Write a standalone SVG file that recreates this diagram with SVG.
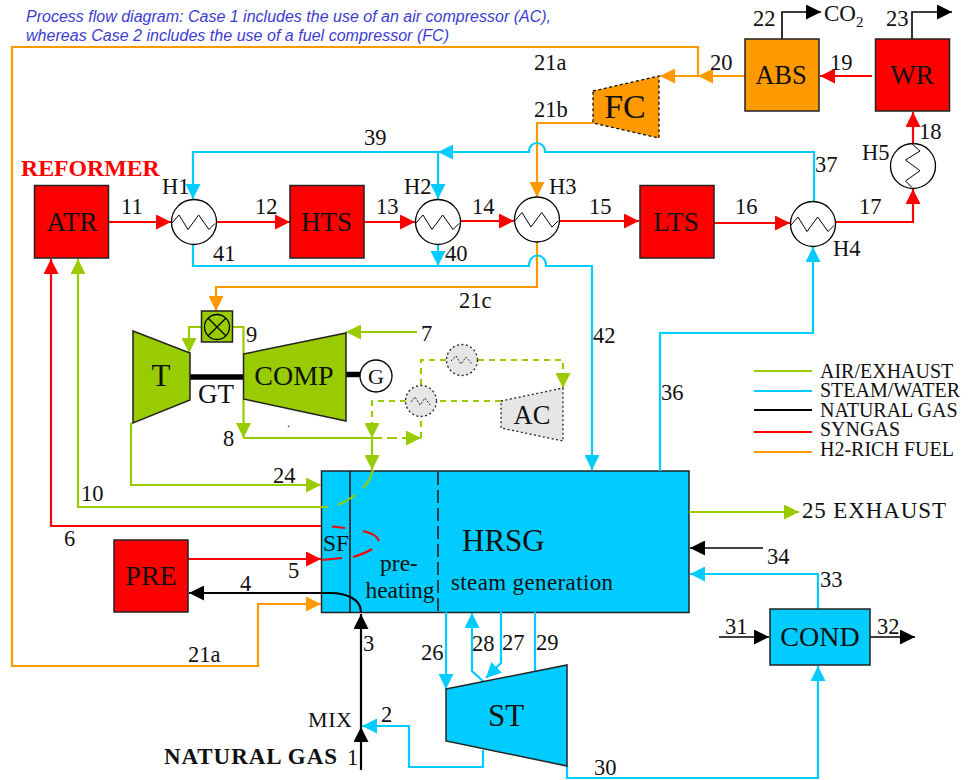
<svg xmlns="http://www.w3.org/2000/svg" width="977" height="780" viewBox="0 0 977 780">
<style>
text{font-family:"Liberation Serif","Times New Roman",serif;fill:#111}
.n{font-size:22.500px}
.h{font-size:22.500px}
.cap{font-family:"Liberation Sans",Arial,sans-serif;font-style:italic;font-size:16px;fill:#3c3cd2}
.leg{font-size:20px}
.c{text-anchor:middle}
.box{stroke:#222;stroke-width:1.500}
.ln{fill:none;stroke-width:2.200}
.th{stroke-width:1.600}
.r{stroke:#ff0000}.b{stroke:#00ccff}.o{stroke:#ff9900}.g{stroke:#99cc00}.k{stroke:#000}
.hx{fill:#fff;stroke:#000;stroke-width:1.300}
.z{fill:none;stroke:#000;stroke-width:1}
.dh{fill:#e6e6e6;stroke:#222;stroke-width:1.300;stroke-dasharray:2 2.500}
</style>
<defs>
<marker id="ar" markerUnits="userSpaceOnUse" markerWidth="15" markerHeight="15" refX="15" refY="7.500" orient="auto"><path d="M0 0L15 7.500L0 15Z" fill="#ff0000"/></marker>
<marker id="ab" markerUnits="userSpaceOnUse" markerWidth="15" markerHeight="15" refX="15" refY="7.500" orient="auto"><path d="M0 0L15 7.500L0 15Z" fill="#00ccff"/></marker>
<marker id="ao" markerUnits="userSpaceOnUse" markerWidth="15" markerHeight="15" refX="15" refY="7.500" orient="auto"><path d="M0 0L15 7.500L0 15Z" fill="#ff9900"/></marker>
<marker id="ag" markerUnits="userSpaceOnUse" markerWidth="15" markerHeight="15" refX="15" refY="7.500" orient="auto"><path d="M0 0L15 7.500L0 15Z" fill="#99cc00"/></marker>
<marker id="ak" markerUnits="userSpaceOnUse" markerWidth="15" markerHeight="15" refX="15" refY="7.500" orient="auto"><path d="M0 0L15 7.500L0 15Z" fill="#000"/></marker>
<path id="zh" d="M-22 1L-15 -7L-6 7.500L4.700 -7L15 7.500L21 1.500"/>
</defs>

<text class="cap" x="26" y="22" textLength="525">Process flow diagram: Case 1 includes the use of an air compressor (AC),</text>
<text class="cap" x="26" y="41" textLength="423">whereas Case 2 includes the use of a fuel compressor (FC)</text>
<text x="21" y="176" font-size="23.800" font-weight="bold" style="fill:#ff0000">REFORMER</text>

<g id="hrsg"><rect class="box" x="321.500" y="471" width="367.500" height="141.500" fill="#00ccff"/>
<line x1="350" y1="471" x2="350" y2="612" stroke="#111" stroke-width="1.500"/>
<line x1="438" y1="472" x2="438" y2="612" stroke="#111" stroke-width="1.500" stroke-dasharray="13 5"/>
<text x="462" y="551" font-size="31">HRSG</text>
<text x="451" y="590" font-size="23" textLength="162">steam generation</text>
<text class="c" x="336" y="551" font-size="23.500">SF</text>
<text class="c" x="399" y="571" font-size="23.500">pre-</text>
<text class="c" x="400" y="598" font-size="23.500">heating</text></g>

<g id="connectors">
<path class="ln o" d="M698 76V47H12V666H258V604H321" marker-end="url(#ao)"/>
<path class="ln o" d="M745 76H698" marker-end="url(#ao)"/>
<path class="ln o" d="M698 76H660" marker-end="url(#ao)"/>
<path class="ln o" d="M593 123H537V197" marker-end="url(#ao)"/>
<path class="ln o" d="M537 242V287H216V311" marker-end="url(#ao)"/>
<path class="ln b" d="M814 202V152H545C545 140 529 140 529 152H438" marker-end="url(#ab)"/>
<path class="ln b" d="M438 152H193V199" marker-end="url(#ab)"/>
<path class="ln b" d="M438 152V199" marker-end="url(#ab)"/>
<path class="ln b" d="M193 244V266H529C529 252 546 252 546 266H592V470" marker-end="url(#ab)"/>
<path class="ln b" d="M438 244V266" marker-end="url(#ab)"/>
<path class="ln b" d="M660 471V333H813V247" marker-end="url(#ab)"/>
<path class="ln b" d="M446 612V689" marker-end="url(#ab)"/>
<path class="ln b" d="M484 682L472 671V613" marker-end="url(#ab)"/>
<path class="ln b" d="M501 612V663L486 678" marker-end="url(#ab)"/>
<path class="ln b" d="M535 612V672"/>
<path class="ln b" d="M483 750V767H409V726H362" marker-end="url(#ab)"/>
<path class="ln b" d="M567 766V778H818V666" marker-end="url(#ab)"/>
<path class="ln b" d="M818 609V574H690" marker-end="url(#ab)"/>
<path class="ln r" d="M108 222H171" marker-end="url(#ar)"/>
<path class="ln r" d="M216 222H290" marker-end="url(#ar)"/>
<path class="ln r" d="M364 222H415" marker-end="url(#ar)"/>
<path class="ln r" d="M461 221H514" marker-end="url(#ar)"/>
<path class="ln r" d="M560 221H639" marker-end="url(#ar)"/>
<path class="ln r" d="M714 223H790" marker-end="url(#ar)"/>
<path class="ln r" d="M836 222H913V189" marker-end="url(#ar)"/>
<path class="ln r" d="M913 145V112" marker-end="url(#ar)"/>
<path class="ln r" d="M872 76H820" marker-end="url(#ar)"/>
<path class="ln r" d="M321 526H51V259" marker-end="url(#ar)"/>
<path class="ln r" d="M188 559H321" marker-end="url(#ar)"/>
<path class="ln r" d="M332 526.500L345 528M363 531C372 533 378 537 379 541M372 549C366 553 360 555 353 557M342 558L322 560"/>
<path class="ln g" d="M201 327H189V353" marker-end="url(#ag)"/>
<path class="ln g" d="M232 327H243.500V354M243.500 399V438" marker-end="url(#ag)"/>
<path class="ln g" d="M243.500 438H372V470" marker-end="url(#ag)"/>
<path class="ln g" d="M372 438H421" stroke-dasharray="10 5" marker-end="url(#ag)"/>
<path class="ln g" d="M421 438V416M421 385V360H447M478 360H563V388" stroke-dasharray="6 5" marker-end="url(#ag)"/>
<path class="ln g" d="M501 401H437M406 401H372V438" stroke-dasharray="6 5" marker-end="url(#ag)"/>
<path class="ln g" d="M417 332H346" marker-end="url(#ag)"/>
<path class="ln g" d="M133 423L131 424V485H321" marker-end="url(#ag)"/>
<path class="ln g" d="M328 507H78V259" marker-end="url(#ag)"/>
<path class="ln g" d="M373 470C371 477 368 483 363 488M355 495C350 499 345 502 338 505"/>
<path class="ln g" d="M689 512H799" marker-end="url(#ag)"/>
<path class="ln k" d="M361 770V727" marker-end="url(#ak)"/>
<path class="ln k" d="M361 727V614" marker-end="url(#ak)"/>
<path class="ln k" d="M361 612C361 600 348 593 330 593H189" marker-end="url(#ak)"/>
<path class="ln k th" d="M782 39V12H821" marker-end="url(#ak)"/>
<path class="ln k th" d="M912 39V12H952" marker-end="url(#ak)"/>
<path class="ln k th" d="M719 637H769" marker-end="url(#ak)"/>
<path class="ln k th" d="M870 637H915" marker-end="url(#ak)"/>
<path class="ln k th" d="M763 548H690" marker-end="url(#ak)"/>
<path d="M190 377H243.500" stroke="#000" stroke-width="5.500"/>
<path d="M346 374.500H360" stroke="#000" stroke-width="5.500"/>
</g>

<g id="atr"><rect class="box" x="34.500" y="185.500" width="74" height="72.500" fill="#ff0000"/><text class="c" x="72" y="230.500" font-size="27">ATR</text></g>
<g id="hts"><rect class="box" x="290" y="185.500" width="74" height="72.500" fill="#ff0000"/><text class="c" x="326.500" y="230.500" font-size="27">HTS</text></g>
<g id="lts"><rect class="box" x="640" y="185.500" width="74" height="72.500" fill="#ff0000"/><text class="c" x="676" y="230.500" font-size="27">LTS</text></g>
<g id="wr"><rect class="box" x="875.500" y="39" width="74" height="72" fill="#ff0000"/><text class="c" x="912" y="84" font-size="27">WR</text></g>
<g id="abs"><rect class="box" x="745" y="39" width="74" height="72" fill="#ff9900"/><text class="c" x="781" y="84" font-size="26.500">ABS</text></g>
<g id="fc"><path d="M593 91L659 76V138L593 123Z" fill="#ff9900" stroke="#111" stroke-width="1.300" stroke-dasharray="3 2.500"/><text class="c" x="625" y="118" font-size="34">FC</text></g>
<g id="pre"><rect class="box" x="114" y="540" width="74" height="72" fill="#ff0000"/><text class="c" x="151" y="585" font-size="28">PRE</text></g>
<g id="cond"><rect class="box" x="770" y="609" width="100" height="56" fill="#00ccff"/><text class="c" x="820" y="646" font-size="28">COND</text></g>
<g id="st"><path class="box" d="M446 689L567 665V766L446 741Z" fill="#00ccff"/><text class="c" x="506" y="726" font-size="31">ST</text></g>
<g id="t"><path class="box" d="M133 331L190 353V400L133 423Z" fill="#99cc00"/><text class="c" x="161" y="386" font-size="31">T</text></g>
<g id="comp"><path class="box" d="M243.500 354L346 333V421L243.500 399Z" fill="#99cc00"/><text class="c" x="294" y="385" font-size="28">COMP</text></g>
<g id="cc"><rect class="box" x="201.500" y="311" width="31" height="31" fill="#99cc00"/><circle cx="217" cy="327" r="12.500" fill="none" stroke="#000" stroke-width="1.300"/><path d="M208.200 318.200L225.800 335.800M225.800 318.200L208.200 335.800" stroke="#000" stroke-width="1.300"/></g>
<g id="gen"><circle cx="376" cy="376" r="16" fill="#fff" stroke="#000" stroke-width="1.300"/><text class="c" x="376" y="384" font-size="22">G</text></g>
<g id="ac"><path class="dh" d="M501 401L563 388V441L501 428Z"/><text class="c" x="532" y="424" font-size="26.500">AC</text></g>
<g id="h1"><circle class="hx" cx="194" cy="222" r="22.500"/><use href="#zh" class="z" x="194" y="222"/></g>
<g id="h2"><circle class="hx" cx="438" cy="222" r="22.500"/><use href="#zh" class="z" x="438" y="222"/></g>
<g id="h3"><circle class="hx" cx="537" cy="219.500" r="22.500"/><use href="#zh" class="z" x="537" y="219.500"/></g>
<g id="h4"><circle class="hx" cx="813" cy="224" r="22.500"/><use href="#zh" class="z" x="813" y="224"/></g>
<g id="h5"><circle class="hx" cx="913" cy="166" r="22.500"/><use href="#zh" class="z" transform="translate(913 166) rotate(90)"/></g>
<g id="hx6"><circle class="dh" cx="421" cy="401" r="15.500"/><path d="M411 402L415 397L420 405L425 398L430 405" fill="none" stroke="#222" stroke-width="1" stroke-dasharray="2 1.500"/></g>
<g id="hx7"><circle class="dh" cx="462" cy="360" r="15.500"/><path d="M451 361L456 356L461 364L466 357L472 364" fill="none" stroke="#222" stroke-width="1" stroke-dasharray="2 1.500"/></g>

<g id="labels">
<text class="n" x="121" y="214">11</text><text class="n" x="255" y="214">12</text><text class="n" x="376" y="214">13</text><text class="n" x="472" y="214">14</text>
<text class="n" x="589" y="214">15</text><text class="n" x="735" y="214">16</text><text class="n" x="859" y="214">17</text><text class="n" x="919" y="139">18</text>
<text class="n" x="830" y="70">19</text><text class="n" x="710" y="70">20</text><text class="n" x="534" y="70">21a</text><text class="n" x="534" y="117">21b</text>
<text class="n" x="753" y="26">22</text><text class="n" x="886" y="26">23</text><text class="n" x="364" y="145">39</text><text class="n" x="815" y="172">37</text>
<text class="n" x="213" y="261">41</text><text class="n" x="445" y="261">40</text><text class="n" x="459" y="308">21c</text><text class="n" x="593" y="343">42</text>
<text class="n" x="661" y="400">36</text><text class="n" x="421" y="341">7</text><text class="n" x="246" y="342">9</text><text class="n" x="223" y="446">8</text>
<text class="n" x="273" y="483">24</text><text class="n" x="81" y="501">10</text><text class="n" x="64" y="546">6</text><text class="n" x="288" y="578">5</text>
<text class="n" x="240" y="591">4</text><text class="n" x="188" y="662">21a</text><text class="n" x="363" y="651">3</text><text class="n" x="381" y="722">2</text>
<text class="n" x="347" y="765">1</text><text class="n" x="421" y="660">26</text><text class="n" x="472" y="651">28</text><text class="n" x="502" y="650">27</text>
<text class="n" x="536" y="650">29</text><text class="n" x="594" y="775">30</text><text class="n" x="725" y="634">31</text><text class="n" x="877" y="634">32</text>
<text class="n" x="820" y="587">33</text><text class="n" x="767" y="564">34</text>
<text class="h" x="162" y="194">H1</text><text class="h" x="404" y="194">H2</text><text class="h" x="549" y="194">H3</text><text class="h" x="833" y="256">H4</text><text class="h" x="862" y="160">H5</text>
<text x="824" y="21" font-size="23">CO<tspan font-size="15" dy="6">2</tspan></text>
<text x="198" y="403" font-size="27" textLength="36">GT</text>
<text x="164" y="764" font-size="23" font-weight="bold" textLength="173">NATURAL GAS</text>
<text x="308" y="727" font-size="22" textLength="44">MIX</text>
<text x="802" y="518" font-size="23" textLength="144">25 EXHAUST</text>
<text x="287" y="427" font-size="12">.</text>
</g>

<g id="legend">
<line class="ln g" x1="754" y1="371" x2="812" y2="371"/><text class="leg" x="820" y="378">AIR/EXHAUST</text>
<line class="ln b" x1="754" y1="391" x2="812" y2="391"/><text class="leg" x="820" y="397">STEAM/WATER</text>
<line class="ln k" x1="754" y1="410" x2="812" y2="410"/><text class="leg" x="820" y="417">NATURAL GAS</text>
<line class="ln r" x1="754" y1="432" x2="812" y2="432"/><text class="leg" x="820" y="436">SYNGAS</text>
<line class="ln o" x1="754" y1="452" x2="812" y2="452"/><text class="leg" x="820" y="456">H2-RICH FUEL</text>
</g>
</svg>
